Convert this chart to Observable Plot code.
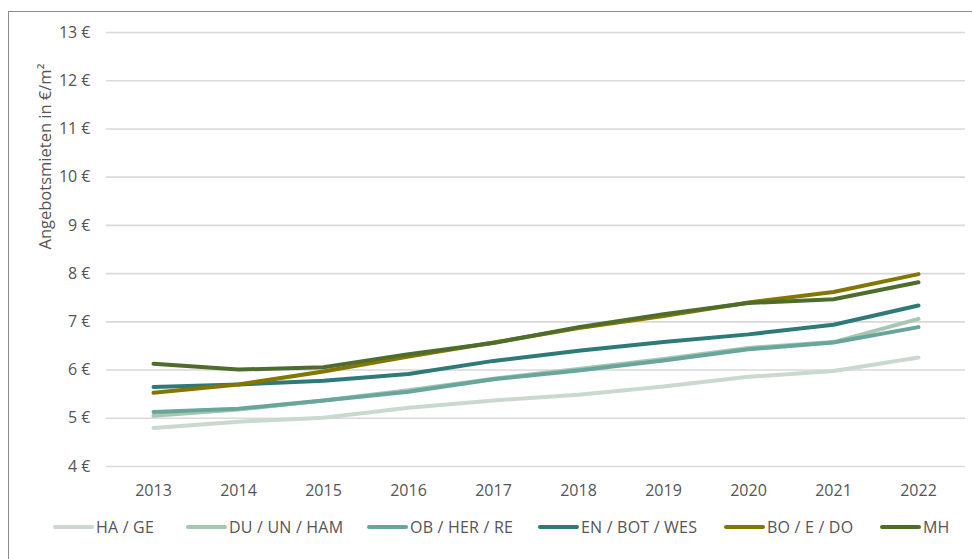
<!DOCTYPE html>
<html>
<head>
<meta charset="utf-8">
<script src="https://cdn.jsdelivr.net/npm/d3@7"></script>
<script src="https://cdn.jsdelivr.net/npm/@observablehq/plot@0.6"></script>
<style>
  html, body { margin: 0; padding: 0; background: #fff; }
  body { width: 972px; height: 559px; position: relative; overflow: hidden; font-family: "Open Sans", sans-serif; }
  #frame { position: absolute; left: 8px; top: 11px; width: 980px; height: 600px; border-left: 1.5px solid #8a8a8a; border-top: 1.5px solid #8a8a8a; }
  #chart { position: absolute; left: 0; top: 0; }
  #legend { position: absolute; top: 516px; left: 0; width: 972px; height: 24px; font-size: 16px; color: #555; }
  #legend .item { position: absolute; top: 0; display: flex; align-items: center; white-space: nowrap; letter-spacing: 0.2px; }
  #legend .sw { width: 41px; height: 4.5px; border-radius: 3px; margin-right: 2px; }
</style>
</head>
<body>
<div id="frame"></div>
<div id="chart"></div>
<div id="legend"></div>
<script>
const years = [2013, 2014, 2015, 2016, 2017, 2018, 2019, 2020, 2021, 2022];
const seriesNames = ["HA / GE", "DU / UN / HAM", "OB / HER / RE", "EN / BOT / WES", "BO / E / DO", "MH"];
const seriesColors = ["#c9d9cd", "#a6c7b2", "#68a59b", "#2d7a78", "#847600", "#4d6d2d"];
const haGe    = [4.80, 4.93, 5.01, 5.22, 5.37, 5.49, 5.66, 5.86, 5.98, 6.26];
const duUnHam = [5.05, 5.18, 5.37, 5.58, 5.82, 6.02, 6.23, 6.46, 6.58, 7.06];
const obHerRe = [5.13, 5.20, 5.37, 5.55, 5.81, 5.99, 6.20, 6.43, 6.57, 6.89];
const enBotWes= [5.65, 5.70, 5.78, 5.92, 6.19, 6.40, 6.58, 6.74, 6.94, 7.34];
const boEDo   = [5.53, 5.70, 5.97, 6.28, 6.57, 6.87, 7.12, 7.40, 7.62, 7.99];
const mh      = [6.13, 6.01, 6.06, 6.33, 6.56, 6.89, 7.16, 7.39, 7.47, 7.82];
const yTicks = [4, 5, 6, 7, 8, 9, 10, 11, 12, 13];
const yLabel = "Angebotsmieten in €/m²";

const allValues = [haGe, duUnHam, obHerRe, enBotWes, boEDo, mh];
const data = [];
seriesNames.forEach((s, i) => {
  years.forEach((yr, j) => data.push({series: s, year: yr, value: allValues[i][j]}));
});

const plot = Plot.plot({
  width: 972,
  height: 510,
  marginLeft: 106,
  marginRight: 7,
  marginTop: 32,
  marginBottom: 44,
  style: {fontFamily: "'Open Sans', sans-serif", fontSize: "16px", color: "#555", background: "transparent"},
  x: {type: "point", domain: years, padding: 0.5},
  y: {domain: [4, 13]},
  color: {domain: seriesNames, range: seriesColors},
  marks: [
    Plot.gridY(yTicks, {stroke: "#d9d9d9", strokeOpacity: 1, strokeWidth: 1.6}),
    Plot.axisY(yTicks, {tickSize: 0, tickPadding: 16, tickFormat: d => d + " €", label: null, fontSize: 16, fill: "#555"}),
    Plot.axisX(years, {tickSize: 0, tickPadding: 18, tickFormat: d => String(d), label: null, fontSize: 16, fill: "#555"}),
    Plot.line(data, {x: "year", y: "value", z: "series", stroke: "series", strokeWidth: 4, strokeLinecap: "round", strokeLinejoin: "round"}),
    Plot.text([yLabel], {frameAnchor: "left", rotate: -90, dx: -61, fontSize: 16.5, fill: "#555", text: d => d})
  ]
});
document.getElementById("chart").appendChild(plot);

const legendLeft = [53, 186, 367, 538, 724, 880];
const legend = document.getElementById("legend");
seriesNames.forEach((s, i) => {
  const it = document.createElement("div");
  it.className = "item";
  it.style.left = legendLeft[i] + "px";
  const sw = document.createElement("span");
  sw.className = "sw";
  sw.style.background = seriesColors[i];
  const tx = document.createElement("span");
  tx.textContent = s;
  it.appendChild(sw); it.appendChild(tx);
  legend.appendChild(it);
});
</script>
</body>
</html>
